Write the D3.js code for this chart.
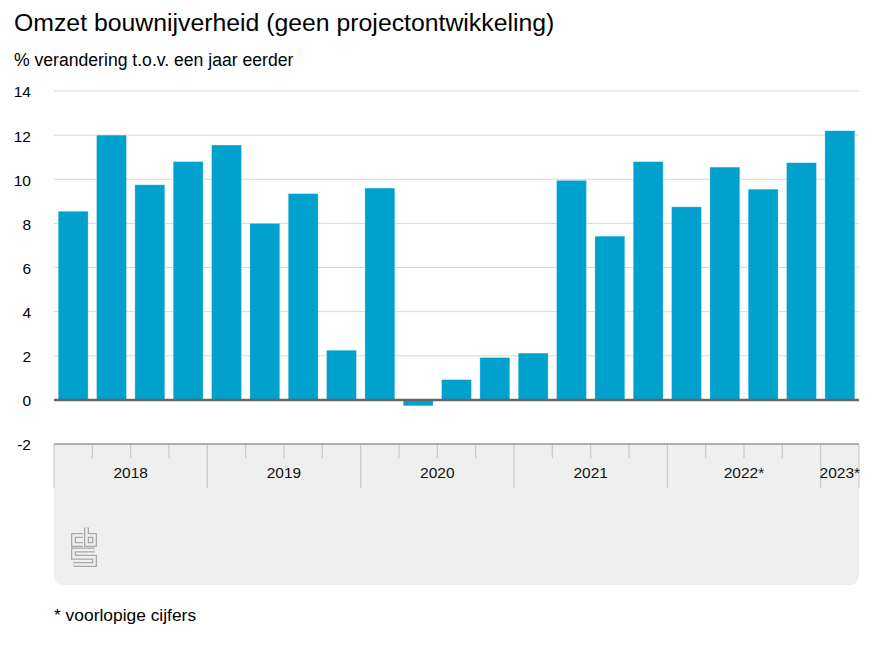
<!DOCTYPE html>
<html>
<head>
<meta charset="utf-8">
<script src="https://cdn.jsdelivr.net/npm/d3@7"></script>
<style>
  html, body { margin: 0; padding: 0; background: #fff; }
  svg { display: block; font-family: "Liberation Sans", Arial, Helvetica, sans-serif; }
</style>
</head>
<body>
<svg id="chart" width="874" height="656"></svg>
<script>
// ---- data ----
const periods = [
  "2018 K1","2018 K2","2018 K3","2018 K4",
  "2019 K1","2019 K2","2019 K3","2019 K4",
  "2020 K1","2020 K2","2020 K3","2020 K4",
  "2021 K1","2021 K2","2021 K3","2021 K4",
  "2022 K1","2022 K2","2022 K3","2022 K4",
  "2023 K1"
];
const values = [
  8.55, 12.0, 9.75, 10.8,
  11.55, 8.0, 9.35, 2.25,
  9.6, -0.27, 0.92, 1.92,
  2.12, 9.95, 7.42, 10.8,
  8.75, 10.55, 9.55, 10.75,
  12.2
];
const years = ["2018", "2019", "2020", "2021", "2022", "2023"];
const yearLabels = ["2018", "2019", "2020", "2021", "2022*", "2023*"];
const yTicks = [-2, 0, 2, 4, 6, 8, 10, 12, 14];

const title = "Omzet bouwnijverheid (geen projectontwikkeling)";
const subtitle = "% verandering t.o.v. een jaar eerder";
const footnote = "* voorlopige cijfers";

// ---- layout ----
const svg = d3.select("#chart");
const plotLeft = 54, plotRight = 859;
const plotTop = 91, plotBottom = 444;
const panelBottom = 585;

const x = d3.scaleBand().domain(periods).range([plotLeft, plotRight]).paddingInner(0.22).paddingOuter(0.11);
const y = d3.scaleLinear().domain([-2, 14]).range([plotBottom, plotTop]);

// titles
svg.append("text").attr("x", 14).attr("y", 31).attr("font-size", 24.8).attr("fill", "#000").text(title);
svg.append("text").attr("x", 14).attr("y", 66).attr("font-size", 17.6).attr("fill", "#000").text(subtitle);

// gridlines
svg.append("g").selectAll("line").data(yTicks.filter(d => d > 0)).join("line")
  .attr("x1", plotLeft).attr("x2", plotRight)
  .attr("y1", d => y(d)).attr("y2", d => y(d))
  .attr("stroke", "#d8d8d8").attr("stroke-width", 1);

// y axis labels
const yAxis = d3.axisLeft(y).tickValues(yTicks).tickSize(0).tickPadding(0).tickFormat(d => String(d));
const gy = svg.append("g").attr("transform", "translate(31,1)").call(yAxis);
gy.select(".domain").remove();
gy.selectAll("text").attr("font-size", 15.5).attr("fill", "#000")
  .attr("font-family", "'Liberation Sans', Arial, Helvetica, sans-serif");

// x-axis panel
const r = 10;
const panelPath = `M${plotLeft},${plotBottom} H${plotRight} V${panelBottom - r} Q${plotRight},${panelBottom} ${plotRight - r},${panelBottom} H${plotLeft + r} Q${plotLeft},${panelBottom} ${plotLeft},${panelBottom - r} Z`;
svg.append("path").attr("d", panelPath).attr("fill", "#efefef");

// quarter ticks and year ticks
const step = x.step();
const bandStart = p => x(p) - x.paddingInner() * step / 2;
const gx = svg.append("g");
periods.forEach((p, i) => {
  const isYearStart = p.endsWith("K1");
  gx.append("line")
    .attr("x1", bandStart(p)).attr("x2", bandStart(p))
    .attr("y1", plotBottom).attr("y2", isYearStart ? 488 : 458)
    .attr("stroke", "#c9c9c9").attr("stroke-width", 1.2);
});
gx.append("line").attr("x1", plotRight).attr("x2", plotRight).attr("y1", plotBottom).attr("y2", 488)
  .attr("stroke", "#c9c9c9").attr("stroke-width", 1.2);
svg.append("line").attr("x1", plotLeft).attr("x2", plotRight).attr("y1", plotBottom).attr("y2", plotBottom)
  .attr("stroke", "#9a9a9a").attr("stroke-width", 1.5);

// year labels
years.forEach((yr, i) => {
  const ps = periods.filter(p => p.startsWith(yr));
  const x0 = x(ps[0]), x1 = x(ps[ps.length - 1]) + x.bandwidth();
  svg.append("text")
    .attr("x", (x0 + x1) / 2).attr("y", 478)
    .attr("text-anchor", "middle").attr("font-size", 15.5).attr("fill", "#111")
    .text(yearLabels[i]);
});

// bars
svg.append("g").selectAll("rect").data(periods).join("rect")
  .attr("x", p => x(p))
  .attr("width", x.bandwidth())
  .attr("y", (p, i) => y(Math.max(0, values[i])))
  .attr("height", (p, i) => Math.abs(y(values[i]) - y(0)))
  .attr("fill", "#00a1cd")
  .attr("stroke", "rgba(255,255,255,0.35)").attr("stroke-width", 0.8);

// zero line
svg.append("line").attr("x1", plotLeft).attr("x2", plotRight).attr("y1", y(0)).attr("y2", y(0))
  .attr("stroke", "#666").attr("stroke-width", 2.5);

// CBS logo
const logo = svg.append("g").attr("transform", "translate(71,525)");
const logoPaths = [
  "M12,10.5 H2.5 V19.5 H12",
  "M15.5,2.5 V19.5 H23.5 V10.5 H15.5",
  "M23.5,25 H2.5 V32.2 H23.5 V39.5 H2.5"
];
logoPaths.forEach(d => {
  logo.append("path").attr("d", d).attr("fill", "none").attr("stroke", "#a8a8a8").attr("stroke-width", 5).attr("stroke-linejoin", "miter");
  logo.append("path").attr("d", d).attr("fill", "none").attr("stroke", "#efefef").attr("stroke-width", 2.4).attr("stroke-linejoin", "miter");
});

// footnote
svg.append("text").attr("x", 54).attr("y", 621).attr("font-size", 17.4).attr("fill", "#000").text(footnote);
</script>
</body>
</html>
